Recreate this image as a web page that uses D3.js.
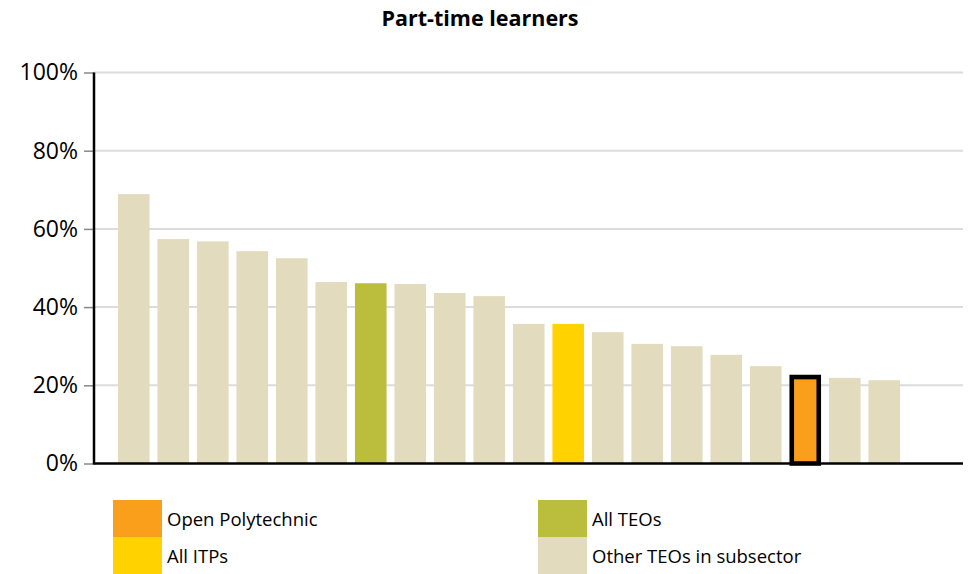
<!DOCTYPE html>
<html>
<head>
<meta charset="utf-8">
<script src="https://cdn.jsdelivr.net/npm/d3@7"></script>
<style>
  body { margin: 0; background: #fff; }
  svg { display: block; font-family: "Open Sans", sans-serif; }
</style>
</head>
<body>
<div id="chart"></div>
<script>
// values (percent of learners studying part-time)
const institutions = d3.range(1, 21).map(i => 'TEO ' + i);
const partTimeShare = [68.9, 57.4, 56.8, 54.3, 52.5, 46.4, 46.1, 45.9, 43.6, 42.8,
                       35.7, 35.7, 33.6, 30.6, 30.0, 27.8, 24.9, 22.7, 21.9, 21.3];
const barGroup = ['other', 'other', 'other', 'other', 'other', 'other', 'all', 'other', 'other', 'other',
                  'other', 'itp', 'other', 'other', 'other', 'other', 'other', 'open', 'other', 'other'];
const yTicks = [0, 20, 40, 60, 80, 100];

const legendItems = [
  { key: 'open', label: 'Open Polytechnic' },
  { key: 'itp', label: 'All ITPs' },
  { key: 'all', label: 'All TEOs' },
  { key: 'other', label: 'Other TEOs in subsector' }
];

const colors = {
  open: '#f99f1c',
  itp: '#ffd200',
  all: '#bbbd3d',
  other: '#e3dbbd'
};

const config = {
  width: 973,
  height: 574,
  left: 94,
  right: 963,
  top: 72.5,
  bottom: 463.5
};

const svg = d3.select('#chart').append('svg')
    .attr('width', config.width)
    .attr('height', config.height);

// title
svg.append('text')
    .attr('x', 480)
    .attr('y', 26)
    .attr('text-anchor', 'middle')
    .attr('font-weight', 'bold')
    .attr('font-size', 21.5)
    .attr('fill', '#000')
    .text('Part-time learners');

const x = d3.scaleBand()
    .domain(institutions)
    .range([114, 904])
    .paddingInner(0.2)
    .paddingOuter(0.1);

const y = d3.scaleLinear()
    .domain([0, 100])
    .range([config.bottom, config.top]);

// gridlines
svg.append('g')
    .selectAll('line')
    .data(yTicks.filter(d => d > 0))
  .join('line')
    .attr('x1', config.left)
    .attr('x2', config.right)
    .attr('y1', d => y(d))
    .attr('y2', d => y(d))
    .attr('stroke', '#dcdcdc')
    .attr('stroke-width', 2);

// y axis
const yAxis = svg.append('g')
    .attr('transform', `translate(${config.left},0)`)
    .call(d3.axisLeft(y).tickValues(yTicks).tickFormat(d => d + '%').tickSize(10).tickPadding(6));
yAxis.select('.domain').remove();
yAxis.selectAll('.tick line').attr('stroke', '#888').attr('stroke-width', 1.5);
yAxis.selectAll('.tick text')
    .attr('font-family', '"Open Sans", sans-serif')
    .attr('font-size', 23)
    .attr('fill', '#000');

// bars
const data = institutions.map((name, i) => ({ name, value: partTimeShare[i], group: barGroup[i] }));
const sw = 4.6;

svg.append('g')
    .selectAll('rect')
    .data(data)
  .join('rect')
    .attr('x', d => d.group === 'open' ? x(d.name) + sw / 2 : x(d.name))
    .attr('y', d => d.group === 'open' ? y(d.value) + sw / 2 : y(d.value))
    .attr('width', d => d.group === 'open' ? x.bandwidth() - sw : x.bandwidth())
    .attr('height', d => d.group === 'open' ? y(0) - y(d.value) - sw / 2 : y(0) - y(d.value))
    .attr('fill', d => colors[d.group])
    .attr('stroke', d => d.group === 'open' ? '#000' : 'none')
    .attr('stroke-width', sw);

// axis lines
svg.append('line')
    .attr('x1', config.left).attr('x2', config.left)
    .attr('y1', config.top).attr('y2', config.bottom + 1)
    .attr('stroke', '#000').attr('stroke-width', 2.5);
svg.append('line')
    .attr('x1', config.left).attr('x2', config.right)
    .attr('y1', config.bottom).attr('y2', config.bottom)
    .attr('stroke', '#000').attr('stroke-width', 2.5);

// legend
const legendPos = [
  { x: 113, y: 500 },
  { x: 113, y: 537 },
  { x: 538, y: 500 },
  { x: 538, y: 537 }
];

const legend = svg.append('g')
    .selectAll('g')
    .data(legendItems)
  .join('g')
    .attr('transform', (d, i) => `translate(${legendPos[i].x},${legendPos[i].y})`);

legend.append('rect')
    .attr('width', 49)
    .attr('height', 37)
    .attr('fill', d => colors[d.key]);

legend.append('text')
    .attr('x', 54)
    .attr('y', 26)
    .attr('font-size', 18.5)
    .attr('fill', '#000')
    .text(d => d.label);
</script>
</body>
</html>
